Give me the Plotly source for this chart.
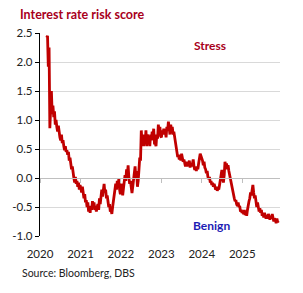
import pandas as pd
import plotly.graph_objects as go

v2020 = [2.42, 2.45, 1.92, 2.25, 0.86,
         1.35, 1.5, 1.1, 1.25,
         1.05, 1.15, 0.92, 1.0,
         0.88, 0.8, 0.9, 0.75, 0.7,
         0.65, 0.75, 0.6, 0.65,
         0.55, 0.48, 0.55, 0.45, 0.48,
         0.4, 0.45, 0.3, 0.35,
         0.25, 0.15, 0.2, 0.05,
         0.0, -0.08, 0.02, -0.1, -0.05,
         -0.15, -0.08, -0.2, -0.12]
v2021 = [-0.18, -0.25, -0.15, -0.3,
         -0.35, -0.28, -0.42, -0.38,
         -0.5, -0.42, -0.58, -0.5, -0.6,
         -0.48, -0.55, -0.4, -0.5,
         -0.42, -0.55, -0.48, -0.58, -0.5,
         -0.45, -0.55, -0.35, -0.45,
         -0.3, -0.2, -0.32, -0.12,
         -0.1, -0.25, -0.2, -0.35, -0.3,
         -0.4, -0.5, -0.45, -0.58,
         -0.55, -0.62, -0.5, -0.4,
         -0.3, -0.25, -0.1, -0.2, -0.05,
         -0.12, -0.02, -0.2, -0.28]
v2022 = [-0.1, -0.22, -0.3, -0.18, -0.05,
         0.05, -0.05, 0.15, 0.05,
         0.22, 0.0, -0.1, -0.05,
         -0.2, -0.26, -0.15, -0.05,
         0.05, 0.2, 0.0, 0.12, -0.15,
         -0.05, 0.15, 0.35, 0.3,
         0.82, 0.6, 0.75, 0.55,
         0.7, 0.62, 0.82, 0.55, 0.75,
         0.6, 0.72, 0.55, 0.75,
         0.65, 0.8, 0.7, 0.85, 0.6,
         0.6, 0.55, 0.75, 0.68,
         0.92, 0.8, 0.88, 0.72]
v2023 = [0.7, 0.82, 0.75, 0.85, 0.78,
         0.8, 0.7, 0.88, 0.82,
         0.97, 0.85, 0.75, 0.92,
         0.82, 0.88, 0.75, 0.8,
         0.7, 0.6, 0.5, 0.42, 0.36,
         0.4, 0.32, 0.38, 0.3,
         0.42, 0.35, 0.28, 0.32, 0.22,
         0.2, 0.28, 0.2, 0.25,
         0.22, 0.3, 0.18, 0.25,
         0.2, 0.25, 0.32, 0.2, 0.14,
         0.18, 0.12, 0.2, 0.15,
         0.25, 0.35, 0.42, 0.38]
v2024 = [0.35, 0.3, 0.22, 0.28, 0.18,
         0.15, 0.08, 0.12, 0.02,
         -0.02, 0.02, -0.08, -0.05,
         -0.12, -0.08, -0.15, -0.1, -0.18,
         -0.2, -0.15, -0.22, -0.18,
         -0.2, -0.12, -0.05, 0.02,
         0.14, 0.0, -0.08, 0.05, 0.28,
         0.2, 0.25, 0.15, 0.22,
         0.12, 0.05, -0.05, -0.08, -0.15,
         -0.22, -0.3, -0.35, -0.4,
         -0.38, -0.45, -0.48, -0.42,
         -0.5, -0.48, -0.58, -0.55, -0.6]
v2025 = [-0.58, -0.62, -0.55, -0.64,
         -0.6, -0.65, -0.55, -0.45,
         -0.4, -0.35, -0.25, -0.3, -0.15,
         -0.12, -0.25, -0.35, -0.3,
         -0.45, -0.5, -0.42, -0.55,
         -0.58, -0.52, -0.6, -0.55, -0.65,
         -0.62, -0.68, -0.6, -0.66,
         -0.7, -0.64, -0.7, -0.62,
         -0.68, -0.72, -0.65, -0.7, -0.62,
         -0.68, -0.75, -0.7, -0.72,
         -0.78, -0.7, -0.76, -0.74]

year_spans = [("2020-03-02", "2020-12-31", v2020), ("2021-01-01", "2021-12-31", v2021),
              ("2022-01-01", "2022-12-31", v2022), ("2023-01-01", "2023-12-31", v2023),
              ("2024-01-01", "2024-12-31", v2024), ("2025-01-01", "2025-11-30", v2025)]
dates, values = [], []
for start, end, vals in year_spans:
    d = pd.date_range(start, end, freq="W-MON")
    n = min(len(d), len(vals))
    dates.extend(d[:n])
    values.extend(vals[:n])

y_ticks = [-1.0, -0.5, 0.0, 0.5, 1.0, 1.5, 2.0, 2.5]
year_ticks = ["2020-01-01", "2021-01-01", "2022-01-01", "2023-01-01", "2024-01-01", "2025-01-01"]
year_labels = ["2020", "2021", "2022", "2023", "2024", "2025"]

title_text = "Interest rate risk score"
source_text = "Source: Bloomberg, DBS"

FONT = "Lato"
RED = "#C00000"
TXT_RED = "#A8001C"
x_range = ["2020-01-01", "2025-12-08"]

fig = go.Figure()
fig.add_trace(go.Scatter(x=dates, y=values, mode="lines",
                         line=dict(color=RED, width=2.8), showlegend=False,
                         xaxis="x2"))

fig.update_layout(
    width=303, height=293,
    margin=dict(l=33, r=23, t=33, b=57),
    paper_bgcolor="white", plot_bgcolor="white",
    font=dict(family=FONT, size=11.5, color="#222222"),
    xaxis=dict(range=x_range, type="date", tickvals=year_ticks, ticktext=year_labels,
               showgrid=False, showline=False, zeroline=False, ticks="",
               ticklabelstandoff=9, tickfont=dict(size=11.5, color="#222222")),
    xaxis2=dict(range=x_range, type="date", overlaying="x", anchor="free",
                position=(0 - (-1.0)) / 3.5, tickvals=year_ticks, showticklabels=False,
                showgrid=False, showline=True, linecolor="#BFBFBF", linewidth=1,
                ticks="outside", ticklen=4, tickcolor="#BFBFBF", zeroline=False),
    yaxis=dict(range=[-1.0, 2.5], tickvals=y_ticks,
               ticktext=[f"{t:.1f}" for t in y_ticks],
               showgrid=True, gridcolor="#D9D9D9", gridwidth=1,
               showline=True, linecolor="black", linewidth=1.3,
               ticks="outside", ticklen=4, tickcolor="black",
               zeroline=False, tickfont=dict(size=11.5, color="#222222")),
)

PW, PH = 247, 203
fig.add_annotation(text=f"<b>{title_text}</b>", x=(10 - 33) / PW, xanchor="left",
                   y=1 + (33 - 15) / PH, yanchor="middle", xref="paper", yref="paper",
                   showarrow=False, font=dict(color=TXT_RED, size=12.5, family=FONT))
fig.add_annotation(text="<b>Stress</b>", x="2024-03-15", y=2.28, xref="x", yref="y",
                   showarrow=False, font=dict(color=TXT_RED, size=12, family=FONT))
fig.add_annotation(text="<b>Benign</b>", x="2024-04-01", y=-0.82, xref="x", yref="y",
                   showarrow=False, font=dict(color="#1C1CB4", size=12, family=FONT))
fig.add_annotation(text=source_text, x=(12 - 33) / PW, xanchor="left",
                   y=-(273 - 236) / PH, yanchor="middle", xref="paper", yref="paper",
                   showarrow=False, font=dict(color="#222222", size=10.5, family=FONT))

fig.write_html("out.html")
